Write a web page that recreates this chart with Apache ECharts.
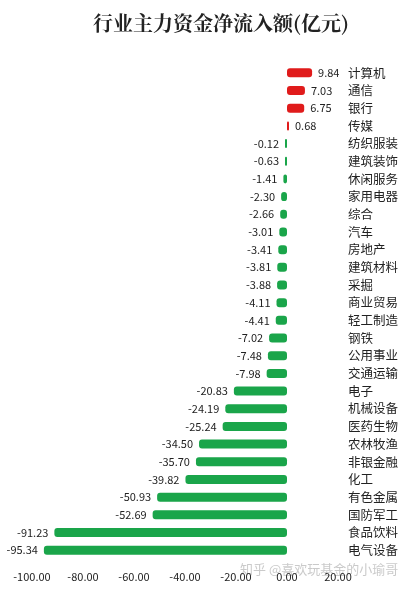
<!DOCTYPE html>
<html><head><meta charset="utf-8">
<script src="https://cdn.jsdelivr.net/npm/echarts@6/dist/echarts.min.js"></script>
<style>html,body{margin:0;padding:0;background:#fff}#c{width:410px;height:589px}</style>
</head><body><div id="c"></div>
<script>
const categories = ["计算机","通信","银行","传媒","纺织服装","建筑装饰","休闲服务","家用电器","综合","汽车","房地产","建筑材料","采掘","商业贸易","轻工制造","钢铁","公用事业","交通运输","电子","机械设备","医药生物","农林牧渔","非银金融","化工","有色金属","国防军工","食品饮料","电气设备"];
const values = [9.84,7.03,6.75,0.68,-0.12,-0.63,-1.41,-2.30,-2.66,-3.01,-3.41,-3.81,-3.88,-4.11,-4.41,-7.02,-7.48,-7.98,-20.83,-24.19,-25.24,-34.50,-35.70,-39.82,-50.93,-52.69,-91.23,-95.34];
const xTicks = [-100,-80,-60,-40,-20,0,20];
const chart = echarts.init(document.getElementById('c'));
const font = '"Noto Sans CJK SC", sans-serif';
chart.setOption({
  animation:false,
  title:{text:'行业主力资金净流入额(亿元)',left:88,top:8,textStyle:{fontFamily:'"Noto Serif CJK SC","Noto Sans CJK SC",serif',fontSize:20,fontWeight:'bold',color:'#222'}},
  graphic:[{type:'text',left:240,top:563,style:{text:'知乎 @喜欢玩基金的小瑜哥',fill:'rgba(150,150,150,0.5)',font:'13px '+font}}],
  grid:{left:32,right:72,top:64,bottom:30},
  xAxis:{type:'value',min:-100,max:20,interval:20,
    axisLine:{show:false},axisTick:{show:false},splitLine:{show:false},
    axisLabel:{formatter:v=>v.toFixed(2),color:'#222',fontSize:11,fontFamily:font,margin:12}},
  yAxis:{type:'category',data:categories,inverse:true,position:'right',
    axisLine:{show:false},axisTick:{show:false},
    axisLabel:{color:'#222',fontSize:12.5,fontFamily:font,margin:10,align:'left'}},
  series:[{type:'bar',barWidth:9,barMinHeight:2,
    data:values.map(v=>({value:v,
      itemStyle:{color:v>=0?'#e01b1b':'#1aa54a',borderRadius:3},
      label:{show:true,position:v>=0?'right':'left',formatter:v.toFixed(2),color:'#222',fontSize:11,fontFamily:font,distance:6}}))}]
});
</script></body></html>
